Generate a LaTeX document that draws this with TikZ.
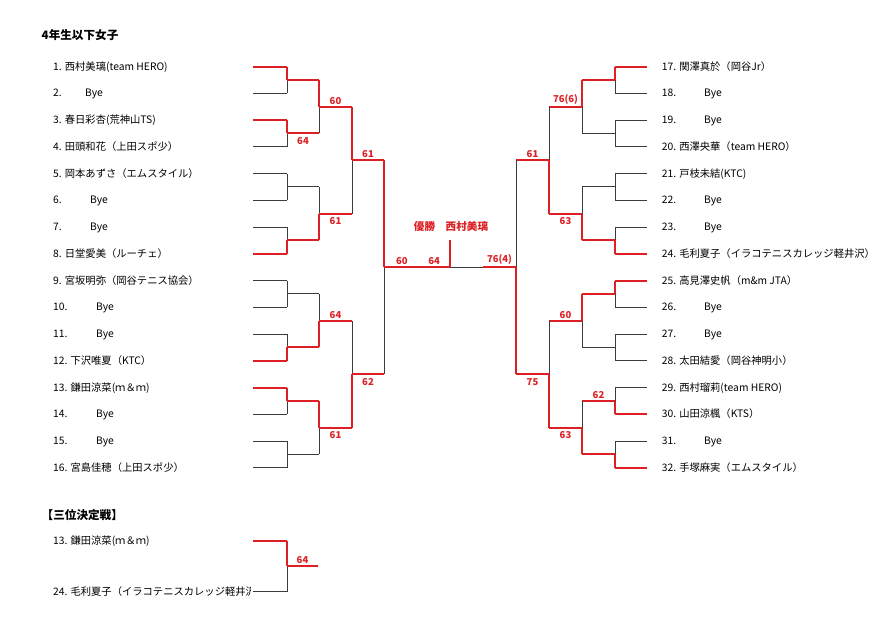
\documentclass[tikz,border=0pt]{standalone}
\usepackage{fontspec}
\setmainfont{Noto Sans CJK JP}
\usetikzlibrary{calc}
\definecolor{wred}{RGB}{222,32,36}
\definecolor{lgray}{RGB}{60,60,60}
\newcommand\mkmatch[4]{\coordinate (#1) at ($(#2)!.5!(#3)+(#4,0)$);}
\newcommand\feed[4]{%
  \draw[#3] (#1) -- (#1 -| #2);
  \draw[#4] (#1 -| #2) -- (#2);}
\begin{document}
\begin{tikzpicture}[x=1pt,y=-1pt,
  win/.style={draw=wred,line width=2pt,line cap=square},
  lose/.style={draw=lgray,line width=0.9pt},
  pname/.style={anchor=base west,inner sep=0pt,yshift=-3.7pt,font=\fontsize{10.3}{12}\selectfont},
  hdr/.style={anchor=base west,inner sep=0pt,font=\fontsize{11.6}{13}\selectfont\bfseries},
  score/.style={text=wred,font=\fontsize{9.5}{11}\selectfont\bfseries,inner sep=1pt},
  sabove/.style={score,above=1pt},
  sbelow/.style={score,below=3pt},
]
\useasboundingbox[fill=white] (0,0) rectangle (890,629);

% row line ends
\foreach \k in {1,...,16}{
  \coordinate (L\k) at (253,{66.5+(\k-1)*26.75});
  \coordinate (R\k) at (647,{66.5+(\k-1)*26.75});
}

% ---------- left matches ----------
\mkmatch{a1}{L1}{L2}{34}   \mkmatch{a2}{L3}{L4}{34}
\mkmatch{a3}{L5}{L6}{34}   \mkmatch{a4}{L7}{L8}{34}
\mkmatch{a5}{L9}{L10}{34}  \mkmatch{a6}{L11}{L12}{34}
\mkmatch{a7}{L13}{L14}{34} \mkmatch{a8}{L15}{L16}{34}
\mkmatch{b1}{a1}{a2}{32} \mkmatch{b2}{a3}{a4}{32}
\mkmatch{b3}{a5}{a6}{32} \mkmatch{b4}{a7}{a8}{32}
\mkmatch{c1}{b1}{b2}{33} \mkmatch{c2}{b3}{b4}{33}
\mkmatch{d1}{c1}{c2}{32}

% ---------- right matches ----------
\mkmatch{e1}{R1}{R2}{-32}   \mkmatch{e2}{R3}{R4}{-32}
\mkmatch{e3}{R5}{R6}{-32}   \mkmatch{e4}{R7}{R8}{-32}
\mkmatch{e5}{R9}{R10}{-32}  \mkmatch{e6}{R11}{R12}{-32}
\mkmatch{e7}{R13}{R14}{-32} \mkmatch{e8}{R15}{R16}{-32}
\mkmatch{f1}{e1}{e2}{-33} \mkmatch{f2}{e3}{e4}{-33}
\mkmatch{f3}{e5}{e6}{-33} \mkmatch{f4}{e7}{e8}{-33}
\mkmatch{g1}{f1}{f2}{-33} \mkmatch{g2}{f3}{f4}{-33}
\mkmatch{h1}{g1}{g2}{-33}

% ---------- left bracket ----------
\feed{L2}{a1}{lose}{lose}   \feed{L1}{a1}{win}{win}
\feed{L4}{a2}{lose}{lose}   \feed{L3}{a2}{win}{win}
\feed{L5}{a3}{lose}{lose}   \feed{L6}{a3}{lose}{lose}
\feed{L7}{a4}{lose}{lose}   \feed{L8}{a4}{win}{win}
\feed{L9}{a5}{lose}{lose}   \feed{L10}{a5}{lose}{lose}
\feed{L11}{a6}{lose}{lose}  \feed{L12}{a6}{win}{win}
\feed{L14}{a7}{lose}{lose}  \feed{L13}{a7}{win}{win}
\feed{L15}{a8}{lose}{lose}  \feed{L16}{a8}{lose}{lose}
\feed{a2}{b1}{win}{lose}    \feed{a1}{b1}{win}{win}
\feed{a3}{b2}{lose}{lose}   \feed{a4}{b2}{win}{win}
\feed{a5}{b3}{lose}{lose}   \feed{a6}{b3}{win}{win}
\feed{a8}{b4}{lose}{lose}   \feed{a7}{b4}{win}{win}
\feed{b2}{c1}{win}{lose}    \feed{b1}{c1}{win}{win}
\feed{b3}{c2}{win}{lose}    \feed{b4}{c2}{win}{win}
\feed{c2}{d1}{win}{lose}    \feed{c1}{d1}{win}{win}

% ---------- right bracket ----------
\feed{R2}{e1}{lose}{lose}   \feed{R1}{e1}{win}{win}
\feed{R3}{e2}{lose}{lose}   \feed{R4}{e2}{lose}{lose}
\feed{R5}{e3}{lose}{lose}   \feed{R6}{e3}{lose}{lose}
\feed{R7}{e4}{lose}{lose}   \feed{R8}{e4}{win}{win}
\feed{R10}{e5}{lose}{lose}  \feed{R9}{e5}{win}{win}
\feed{R11}{e6}{lose}{lose}  \feed{R12}{e6}{lose}{lose}
\feed{R13}{e7}{lose}{lose}  \feed{R14}{e7}{win}{win}
\feed{R15}{e8}{lose}{lose}  \feed{R16}{e8}{win}{win}
\feed{e2}{f1}{lose}{lose}   \feed{e1}{f1}{win}{win}
\feed{e3}{f2}{lose}{lose}   \feed{e4}{f2}{win}{win}
\feed{e6}{f3}{lose}{lose}   \feed{e5}{f3}{win}{win}
\feed{e7}{f4}{win}{lose}    \feed{e8}{f4}{win}{win}
\feed{f1}{g1}{win}{lose}    \feed{f2}{g1}{win}{win}
\feed{f3}{g2}{win}{lose}    \feed{f4}{g2}{win}{win}
\feed{g1}{h1}{win}{lose}    \feed{g2}{h1}{win}{win}

% ---------- final ----------
\coordinate (champ) at ($(d1)!.5!(h1)$);
\coordinate (champR) at ($(champ)!.5!(h1)$);
\coordinate (champtop) at ($(champ)+(0,-27)$);
\draw[lose] (champ) -- (champR);
\draw[win] (d1) -- (champ);
\draw[win] (champR) -- (h1);
\draw[win] (champ) -- (champtop);
\node[text=wred,font=\fontsize{10.6}{12}\selectfont\bfseries,inner sep=0pt] (champname) at ($(champtop)+(1,-14)$) {優勝　西村美璃};

% ---------- scores ----------
\node[sbelow] (s1) at ($(a2)!.5!(a2-|b1)$) {64};
\node[sabove] (s2) at ($(b1)!.5!(b1-|c1)$) {60};
\node[sbelow] (s3) at ($(b2)!.5!(b2-|c1)$) {61};
\node[sabove] (s4) at ($(b3)!.5!(b3-|c2)$) {64};
\node[sbelow] (s5) at ($(b4)!.5!(b4-|c2)$) {61};
\node[sabove] (s6) at ($(c1)!.5!(c1-|d1)$) {61};
\node[sbelow] (s7) at ($(c2)!.5!(c2-|d1)$) {62};
\node[sabove] (s8) at ($(d1)!.27!(champ)$) {60};
\node[sabove] (s9) at ($(d1)!.76!(champ)$) {64};
\node[sabove] (s10) at ($(champR)!.5!(h1)$) {76(4)};
\node[sabove] (s11) at ($(f1)!.5!(f1-|g1)$) {76(6)};
\node[sbelow] (s12) at ($(f2)!.5!(f2-|g1)$) {63};
\node[sabove] (s13) at ($(f3)!.5!(f3-|g2)$) {60};
\node[sbelow] (s14) at ($(f4)!.5!(f4-|g2)$) {63};
\node[sabove] (s15) at ($(g1)!.5!(g1-|h1)$) {61};
\node[sbelow] (s16) at ($(g2)!.5!(g2-|h1)$) {75};
\node[sabove] (s17) at ($(e7)!.5!(e7-|f4)$) {62};

% ---------- title ----------
\node[hdr] (title) at (41.5,39.5) {4年生以下女子};

% ---------- left names ----------
\node[pname] (n1) at ($(L1)+(-200,0)$) {1. 西村美璃(team HERO)};
\node[pname] (n2) at ($(L2)+(-200,0)$) {2.};
\node[pname] (b2t) at ($(L2)+(-168,0)$) {Bye};
\node[pname] (n3) at ($(L3)+(-200,0)$) {3. 春日彩杏(荒神山TS)};
\node[pname] (n4) at ($(L4)+(-200,0)$) {4. 田頭和花（上田スポ少）};
\node[pname] (n5) at ($(L5)+(-200,0)$) {5. 岡本あずさ（エムスタイル）};
\node[pname] (n6) at ($(L6)+(-200,0)$) {6.};
\node[pname] (b6t) at ($(L6)+(-163,0)$) {Bye};
\node[pname] (n7) at ($(L7)+(-200,0)$) {7.};
\node[pname] (b7t) at ($(L7)+(-163,0)$) {Bye};
\node[pname] (n8) at ($(L8)+(-200,0)$) {8. 日堂愛美（ルーチェ）};
\node[pname] (n9) at ($(L9)+(-200,0)$) {9. 宮坂明弥（岡谷テニス協会）};
\node[pname] (n10) at ($(L10)+(-200,0)$) {10.};
\node[pname] (b10t) at ($(L10)+(-157,0)$) {Bye};
\node[pname] (n11) at ($(L11)+(-200,0)$) {11.};
\node[pname] (b11t) at ($(L11)+(-157,0)$) {Bye};
\node[pname] (n12) at ($(L12)+(-200,0)$) {12. 下沢唯夏（KTC）};
\node[pname] (n13) at ($(L13)+(-200,0)$) {13. 鎌田涼菜(ｍ＆ｍ)};
\node[pname] (n14) at ($(L14)+(-200,0)$) {14.};
\node[pname] (b14t) at ($(L14)+(-157,0)$) {Bye};
\node[pname] (n15) at ($(L15)+(-200,0)$) {15.};
\node[pname] (b15t) at ($(L15)+(-157,0)$) {Bye};
\node[pname] (n16) at ($(L16)+(-200,0)$) {16. 宮島佳穂（上田スポ少）};

% ---------- right names ----------
\node[pname] (n17) at ($(R1)+(14.7,0)$) {17. 関澤真於（岡谷Jr）};
\node[pname] (n18) at ($(R2)+(14.7,0)$) {18.};
\node[pname] (b18t) at ($(R2)+(57,0)$) {Bye};
\node[pname] (n19) at ($(R3)+(14.7,0)$) {19.};
\node[pname] (b19t) at ($(R3)+(57,0)$) {Bye};
\node[pname] (n20) at ($(R4)+(14.7,0)$) {20. 西澤央華（team HERO）};
\node[pname] (n21) at ($(R5)+(14.7,0)$) {21. 戸枝未結(KTC)};
\node[pname] (n22) at ($(R6)+(14.7,0)$) {22.};
\node[pname] (b22t) at ($(R6)+(57,0)$) {Bye};
\node[pname] (n23) at ($(R7)+(14.7,0)$) {23.};
\node[pname] (b23t) at ($(R7)+(57,0)$) {Bye};
\node[pname] (n24) at ($(R8)+(14.7,0)$) {24. 毛利夏子（イラコテニスカレッジ軽井沢）};
\node[pname] (n25) at ($(R9)+(14.7,0)$) {25. 高見澤史帆（m\&m JTA）};
\node[pname] (n26) at ($(R10)+(14.7,0)$) {26.};
\node[pname] (b26t) at ($(R10)+(57,0)$) {Bye};
\node[pname] (n27) at ($(R11)+(14.7,0)$) {27.};
\node[pname] (b27t) at ($(R11)+(57,0)$) {Bye};
\node[pname] (n28) at ($(R12)+(14.7,0)$) {28. 太田結愛（岡谷神明小）};
\node[pname] (n29) at ($(R13)+(14.7,0)$) {29. 西村瑠莉(team HERO)};
\node[pname] (n30) at ($(R14)+(14.7,0)$) {30. 山田涼楓（KTS）};
\node[pname] (n31) at ($(R15)+(14.7,0)$) {31.};
\node[pname] (b31t) at ($(R15)+(57,0)$) {Bye};
\node[pname] (n32) at ($(R16)+(14.7,0)$) {32. 手塚麻実（エムスタイル）};

% ---------- third place ----------
\node[hdr] (third) at (41.5,519.5) {【三位決定戦】};
\coordinate (T1) at (253,540.7);
\coordinate (T2) at (253,591.7);
\mkmatch{t1}{T1}{T2}{34}
\coordinate (tout) at ($(t1)+(31,0)$);
\feed{T2}{t1}{lose}{lose}
\feed{T1}{t1}{win}{win}
\draw[win] (t1) -- (tout);
\node[sabove] (s18) at ($(t1)!.5!(tout)$) {64};
\node[pname] (m13) at ($(T1)+(-200,0)$) {13. 鎌田涼菜(ｍ＆ｍ)};
\begin{scope}
  \clip (0,575) rectangle (250,610);
  \node[pname] (m24) at ($(T2)+(-200,0)$) {24. 毛利夏子（イラコテニスカレッジ軽井沢）};
\end{scope}
\end{tikzpicture}
\end{document}
